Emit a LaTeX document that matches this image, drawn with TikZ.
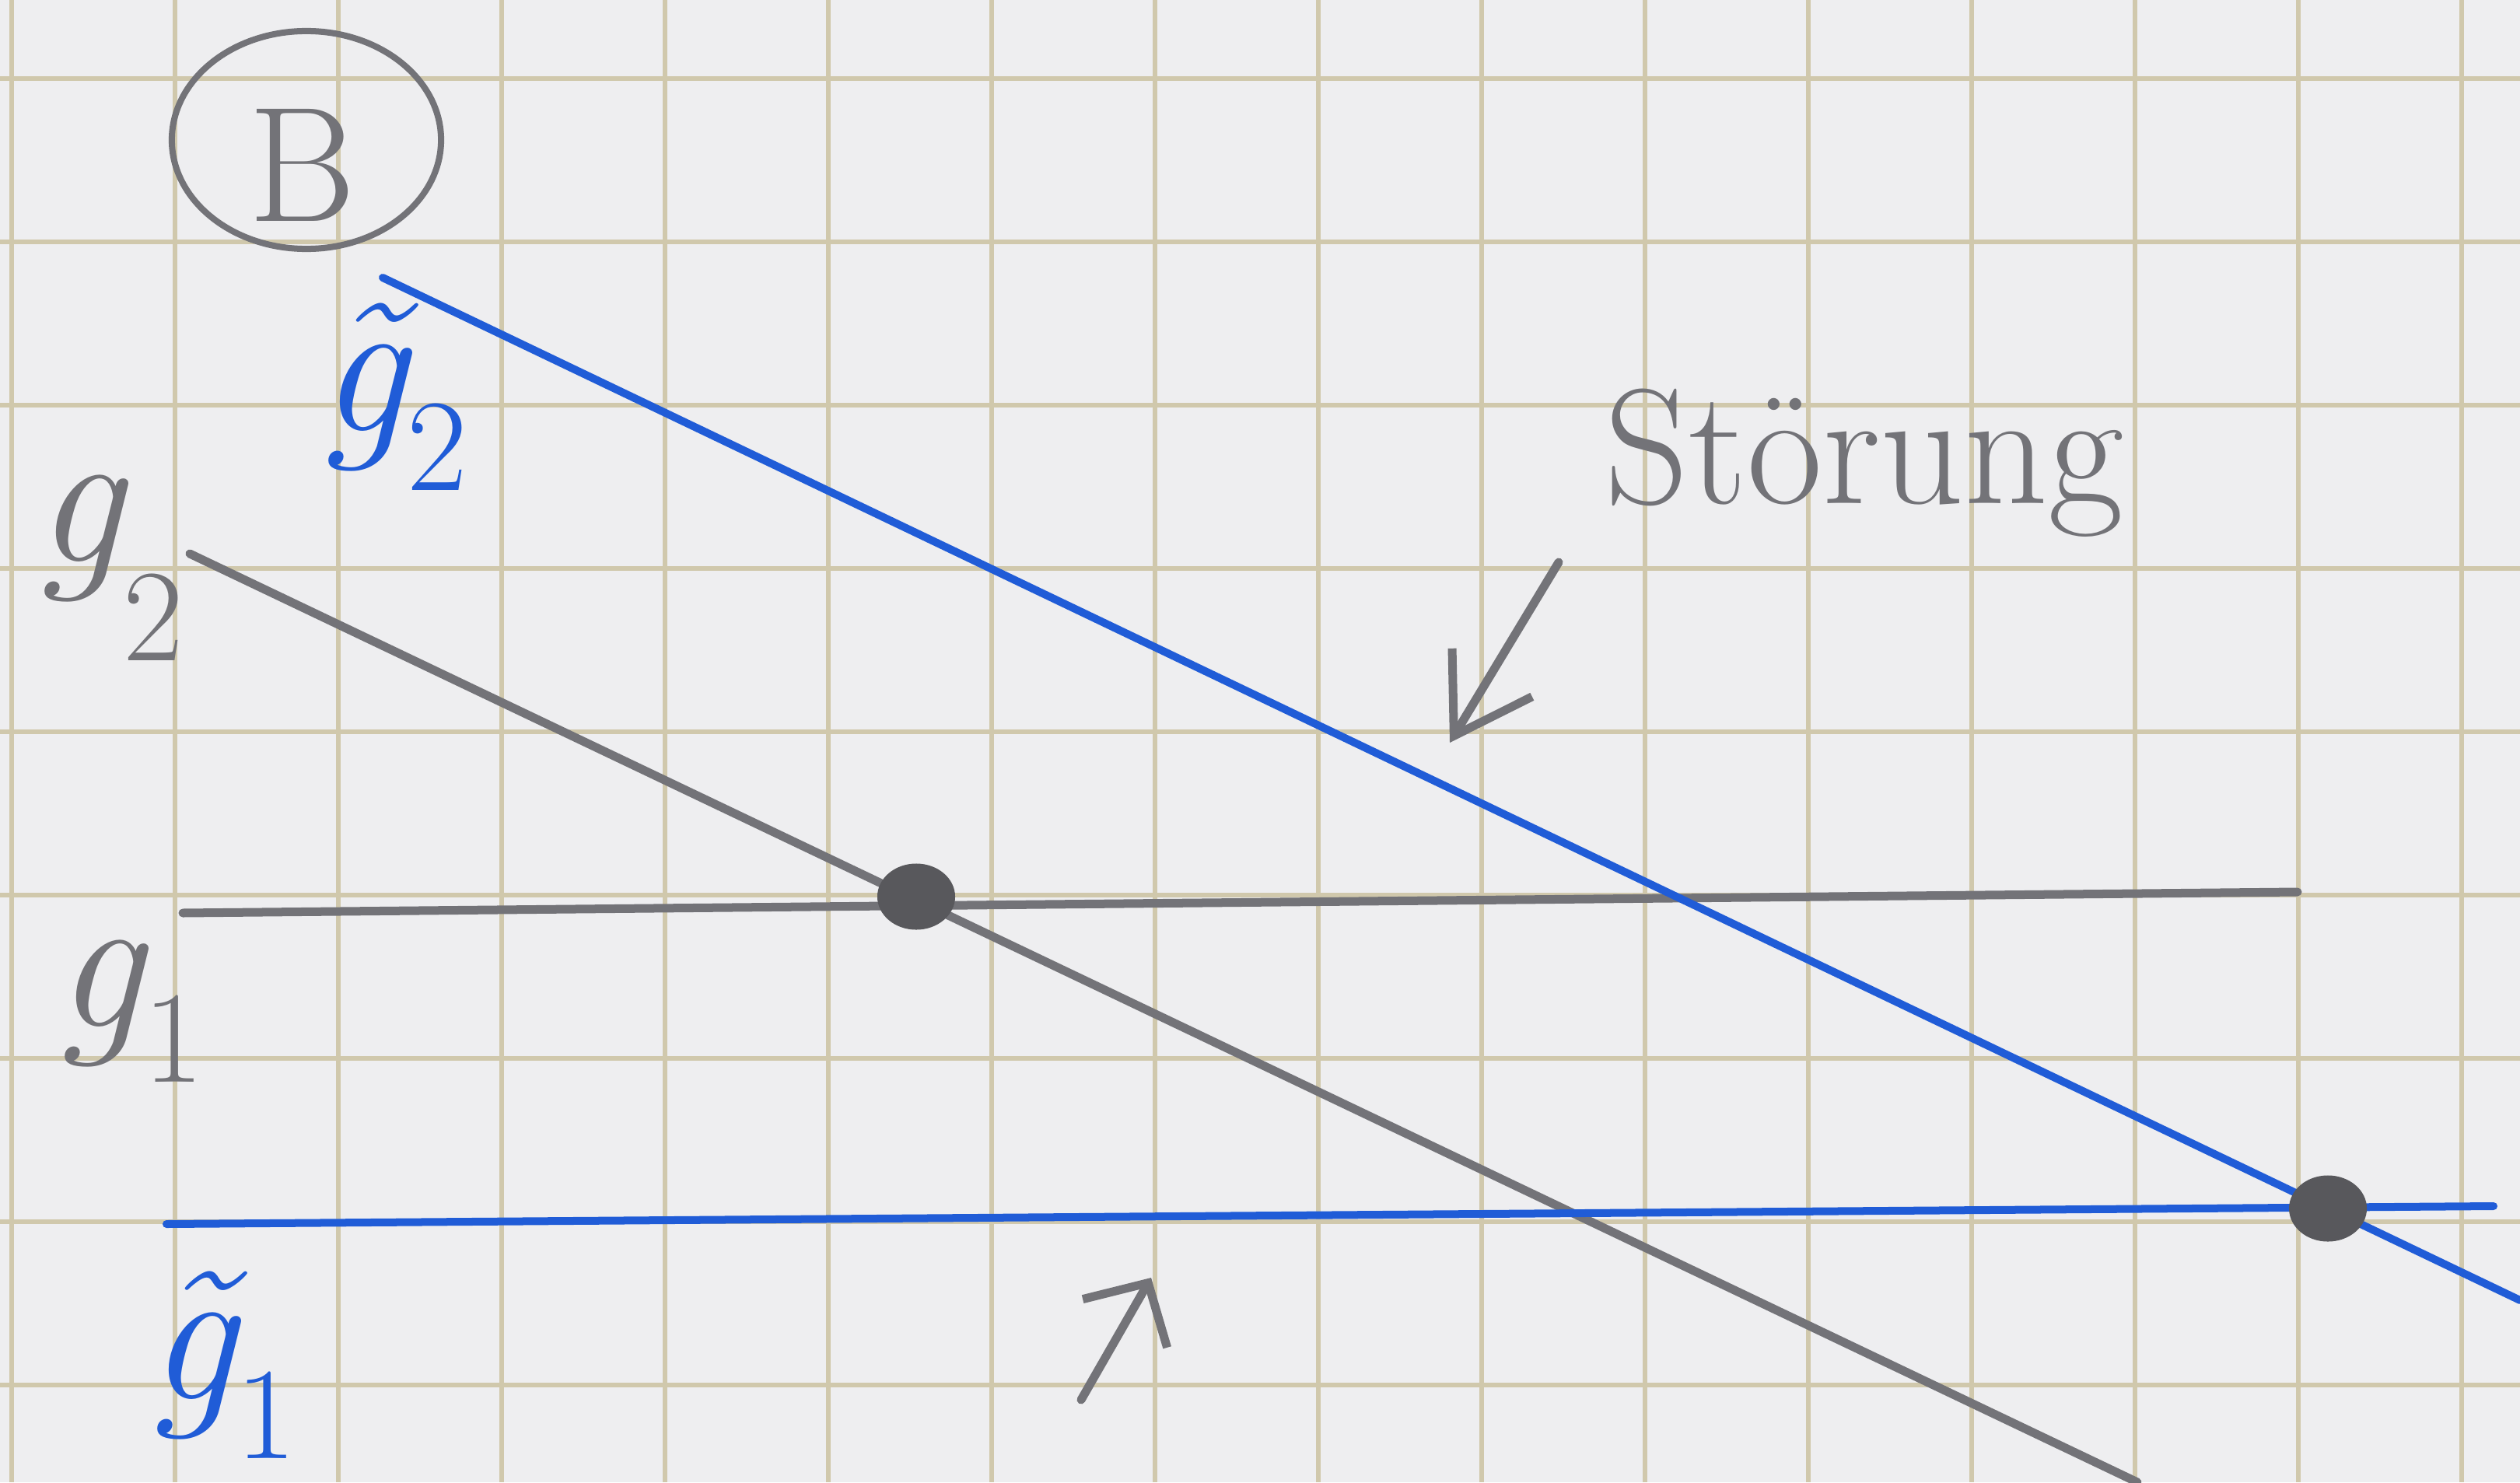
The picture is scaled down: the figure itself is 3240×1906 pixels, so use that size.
\documentclass[tikz,border=0pt]{standalone}
\usepackage{fontspec}
\usetikzlibrary{arrows.meta,shapes.geometric}
\definecolor{paper}{RGB}{238,238,240}
\definecolor{gridc}{RGB}{208,200,172}
\definecolor{pencil}{RGB}{115,115,120}
\definecolor{pencildark}{RGB}{88,88,92}
\definecolor{pen}{RGB}{32,92,215}
\newcommand{\lbl}[3]{\itshape #1\raisebox{#3}{\fontsize{48}{52}\selectfont\upshape #2}}
\begin{document}
\begin{tikzpicture}[x=0.01cm,y=-0.01cm,
  gridline/.style={draw=gridc,line width=0.055cm},
  pencilline/.style={draw=pencil,line width=0.11cm,line cap=round},
  penline/.style={draw=pen,line width=0.1cm,line cap=round},
  dotmark/.style={ellipse,fill=pencildark,minimum width=1.0cm,minimum height=0.85cm,inner sep=0},
  pencillabel/.style={text=pencil,font=\fontsize{72}{84}\selectfont,inner sep=0},
  penlabel/.style={text=pen,font=\fontsize{72}{84}\selectfont,inner sep=0},
  wordlabel/.style={text=pencil,font=\fontsize{60}{72}\selectfont,inner sep=0},
]
% paper
\fill[paper] (0,0) rectangle (3240,1906);
\useasboundingbox (0,0) rectangle (3240,1906);
% grid
\foreach \k in {0,...,15} {
  \draw[gridline] ({15+210*\k},0) -- ({15+210*\k},1906);
}
\foreach \k in {0,...,8} {
  \draw[gridline] (0,{101+210*\k}) -- (3240,{101+210*\k});
}
% circled B
\node[ellipse,draw=pencil,line width=0.08cm,minimum width=3.46cm,minimum height=2.8cm] (circ) at (394,180) {};
\node[text=pencil,font=\fontsize{60}{72}\selectfont,inner sep=0] (B) at (388,212) {B};
% end points of lines
\coordinate (t2a) at (492,357);
\coordinate (t2b) at (3240,1672);
\coordinate (t1a) at (214,1574);
\coordinate (t1b) at (3206,1551);
\coordinate (g1a) at (235,1174);
\coordinate (g1b) at (2954,1147);
\coordinate (g2a) at (244,712);
\coordinate (g2b) at (2748,1906);
% lines
\draw[pencilline] (g1a) -- (g1b);
\draw[pencilline] (g2a) -- (g2b);
\draw[penline] (t1a) -- (t1b);
\draw[penline] (t2a) -- (t2b);
% intersection dots
\node[dotmark] (d1) at (1178,1153) {};
\node[dotmark] (d2) at (2993,1554) {};
% labels
\node[penlabel] (lt2) at (505,510) {\lbl{\~{g}}{2}{-0.3em}};
\node[pencillabel] (lg2) at (140,730) {\lbl{g}{2}{-0.5em}};
\node[pencillabel] (lg1) at (166,1300) {\lbl{g}{1}{-0.28em}};
\node[penlabel] (lt1) at (285,1755) {\lbl{\~{g}}{1}{-0.3em}};
\node[wordlabel] (stoer) at (2397,595) {Störung};
% arrows
\coordinate (sa1) at (2004,723);
\coordinate (sa2) at (1864,955);
\draw[pencilline,-{Straight Barb[length=0.95cm,width=1.2cm]}] (sa1) -- (sa2);
\coordinate (ba1) at (1390,1800);
\coordinate (ba2) at (1480,1643);
\draw[pencilline,-{Straight Barb[length=0.6cm,width=1.25cm]}] (ba1) -- (ba2);
\end{tikzpicture}
\end{document}
